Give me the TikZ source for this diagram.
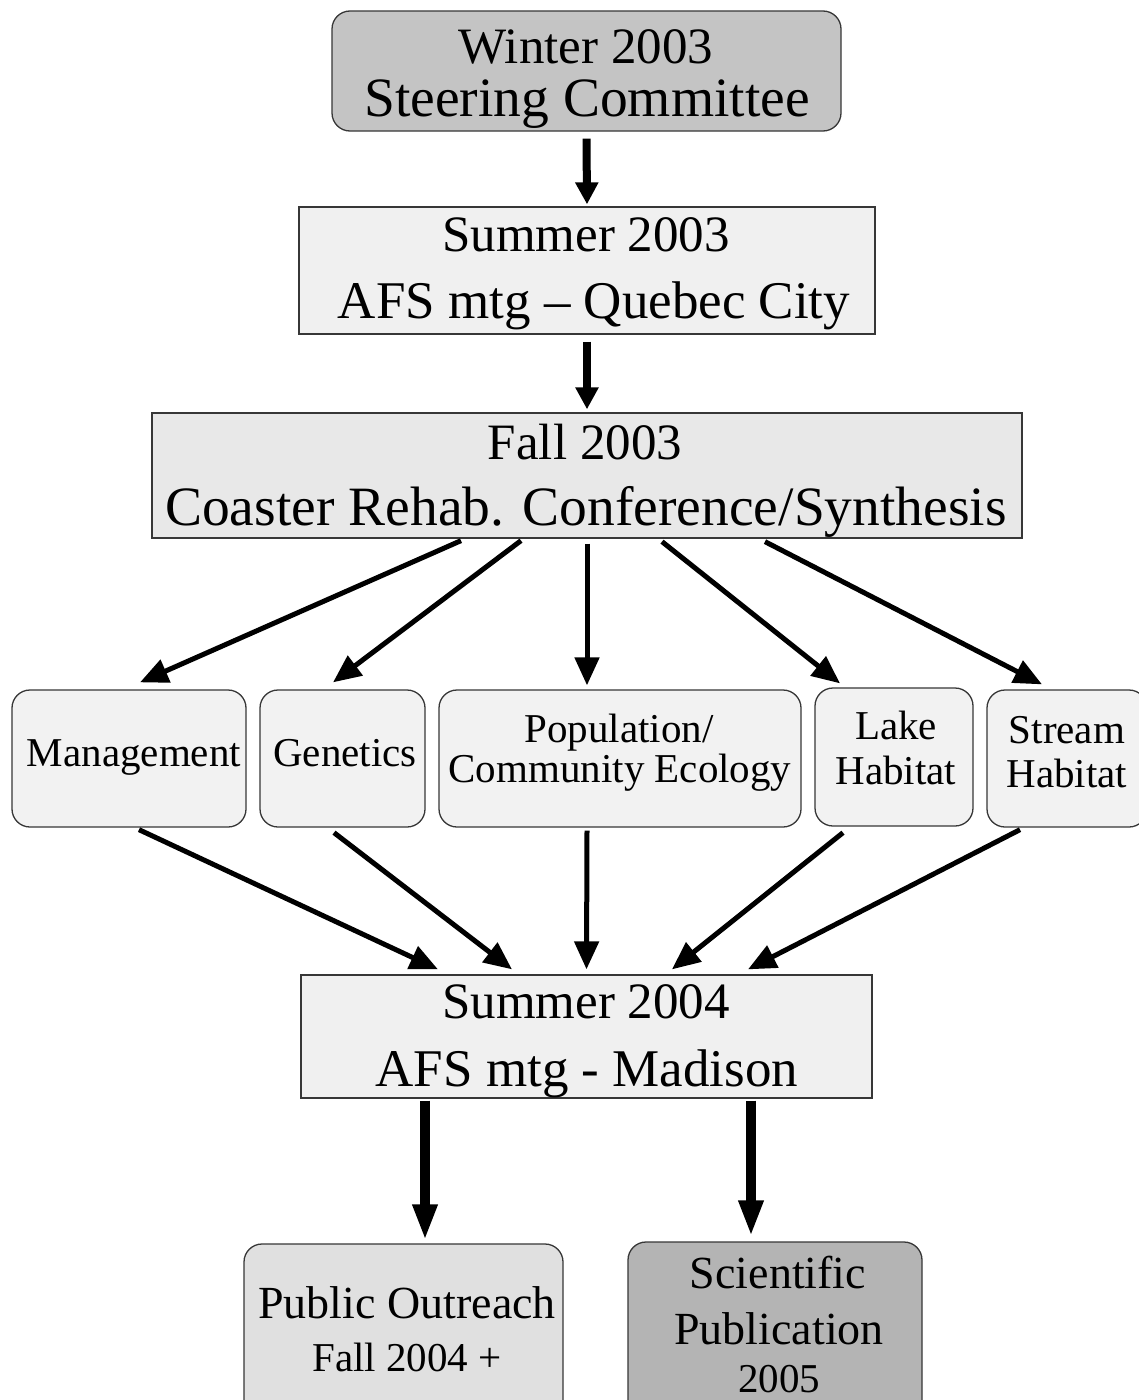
\documentclass[tikz,border=0pt]{standalone}
\usepackage{fontspec}
\setmainfont{Liberation Serif}
\usetikzlibrary{arrows.meta}
\definecolor{bordc}{RGB}{55,55,55}
\definecolor{cwinter}{RGB}{196,196,196}
\definecolor{cs03}{RGB}{240,240,240}
\definecolor{cfall}{RGB}{232,232,232}
\definecolor{cmid}{RGB}{242,242,242}
\definecolor{cpub}{RGB}{224,224,224}
\definecolor{csci}{RGB}{180,180,180}
\tikzset{
  boxsq/.style={draw=bordc, line width=1.3pt, inner sep=0pt, rectangle},
  boxrd/.style={boxsq, rounded corners=18pt},
  tT/.style={anchor=base, inner sep=0pt, font=\fontsize{51}{51}\selectfont},
  tL/.style={anchor=base, inner sep=0pt, font=\fontsize{54}{54}\selectfont},
  tM/.style={anchor=base, inner sep=0pt, font=\fontsize{41}{41}\selectfont},
  tP/.style={anchor=base, inner sep=0pt, font=\fontsize{46}{46}\selectfont},
  arrtop/.style={line width=8pt, -{Triangle[length=22pt,width=22pt]}},
  arrfan/.style={line width=5pt, -{Triangle[length=28pt,width=24pt]}},
  arrbot/.style={line width=10pt, -{Triangle[length=36pt,width=23pt]}},
}
\begin{document}
\begin{tikzpicture}[x=1pt,y=-1pt]
\useasboundingbox[fill=white] (0,0) rectangle (1138,1400);
% boxes
\node[boxrd, fill=cwinter, minimum width=509pt, minimum height=120pt] (win) at (586.5,71) {};
\node[boxsq, fill=cs03, minimum width=576pt, minimum height=127pt] (s03) at (587,270.5) {};
\node[boxsq, fill=cfall, minimum width=870pt, minimum height=125pt] (fall) at (587,475.5) {};
\node[boxrd, fill=cmid, minimum width=234pt, minimum height=137pt] (mgmt) at (129,758.5) {};
\node[boxrd, fill=cmid, minimum width=165pt, minimum height=137pt] (gen) at (342.5,758.5) {};
\node[boxrd, fill=cmid, minimum width=362pt, minimum height=137pt] (pop) at (620,758.5) {};
\node[boxrd, fill=cmid, minimum width=158pt, minimum height=138pt] (lake) at (894,757) {};
\node[boxrd, fill=cmid, minimum width=160pt, minimum height=137pt] (stream) at (1067,758.5) {};
\node[boxsq, fill=cs03, minimum width=571pt, minimum height=123pt] (s04) at (586.5,1036.5) {};
\node[boxrd, fill=cpub, minimum width=319pt, minimum height=176pt] (pub) at (403.5,1332) {};
\node[boxrd, fill=csci, minimum width=294pt, minimum height=178pt] (sci) at (775,1331) {};
% texts
\node[tT] (win1) at (586,63) {Winter 2003};
\node[tL, font=\fontsize{55.5}{55.5}\selectfont] (win2) at (587,116) {Steering Committee};
\node[tT] (s031) at (586,251) {Summer 2003};
\node[tL, font=\fontsize{53}{53}\selectfont] (s032) at (594,318) {AFS mtg -- Quebec City};
\node[tT] (fall1) at (585,459) {Fall 2003};
\node[tL, font=\fontsize{55.5}{55.5}\selectfont] (fall2) at (586,525) {Coaster Rehab. Conference/Synthesis};
\node[tM] (mgmt1) at (134,766) {Management};
\node[tM] (gen1) at (345,766) {Genetics};
\node[tM] (pop1) at (619,742) {Population/};
\node[tM] (pop2) at (620,782) {Community Ecology};
\node[tM] (lake1) at (896,739) {Lake};
\node[tM] (lake2) at (896,784) {Habitat};
\node[tM] (str1) at (1067,743) {Stream};
\node[tM] (str2) at (1067,787) {Habitat};
\node[tT] (s041) at (586,1018) {Summer 2004};
\node[tL, font=\fontsize{53}{53}\selectfont] (s042) at (587,1086) {AFS mtg - Madison};
\node[tP] (pub1) at (407,1318) {Public Outreach};
\node[tM] (pub2) at (407,1371) {Fall 2004 +};
\node[tP] (sci1) at (778,1288) {Scientific};
\node[tP] (sci2) at (779,1344) {Publication};
\node[tM] (sci3) at (779,1392) {2005};
% arrows
\draw[arrtop] ([yshift=-7pt]win.south) -- ([yshift=2pt]s03.north);
\draw[arrtop] ([yshift=-7pt]s03.south) -- ([yshift=3pt]fall.north);
\draw[arrfan] ([xshift=-126pt,yshift=-2pt]fall.south) -- ([xshift=11pt,yshift=7pt]mgmt.north);
\draw[arrfan] ([xshift=-66pt,yshift=-2pt]fall.south) -- ([xshift=-9.5pt,yshift=7pt]gen.north);
\draw[arrfan] ([xshift=0pt,yshift=-5pt]fall.south) -- ([xshift=-33pt,yshift=4pt]pop.north);
\draw[arrfan] ([xshift=75pt,yshift=-3pt]fall.south) -- ([xshift=-54pt,yshift=4pt]lake.north);
\draw[arrfan] ([xshift=178pt,yshift=-3pt]fall.south) -- ([xshift=-25pt,yshift=5pt]stream.north);
\draw[arrfan] ([xshift=10pt,yshift=-2pt]mgmt.south) -- ([xshift=-148.5pt,yshift=5pt]s04.north);
\draw[arrfan] ([xshift=-8.5pt,yshift=-5pt]gen.south) -- ([xshift=-74.5pt,yshift=5pt]s04.north);
\draw[arrfan] ([xshift=-33pt,yshift=-3pt]pop.south) -- ([xshift=0pt,yshift=5pt]s04.north);
\draw[arrfan] ([xshift=-51pt,yshift=-6pt]lake.south) -- ([xshift=85.5pt,yshift=5pt]s04.north);
\draw[arrfan] ([xshift=-47pt,yshift=-2pt]stream.south) -- ([xshift=161.5pt,yshift=5pt]s04.north);
\draw[arrbot] ([xshift=-161.5pt,yshift=-2pt]s04.south) -- ([xshift=21.5pt,yshift=3pt]pub.north);
\draw[arrbot] ([xshift=164.5pt,yshift=-2pt]s04.south) -- ([xshift=-24pt,yshift=5pt]sci.north);
\end{tikzpicture}
\end{document}
